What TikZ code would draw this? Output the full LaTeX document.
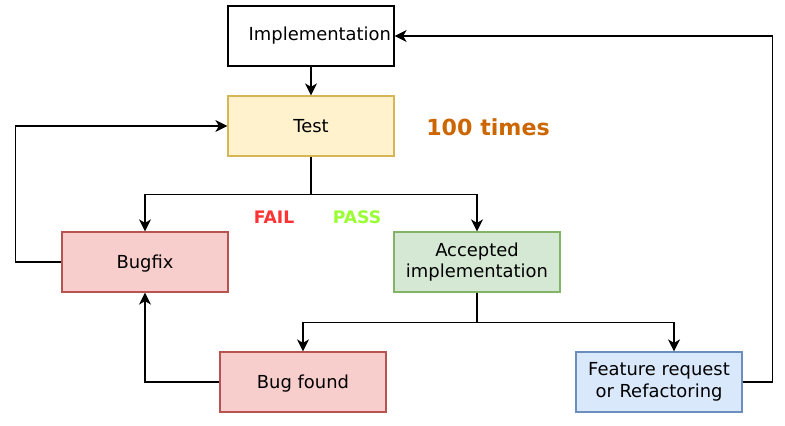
\documentclass[tikz,border=0pt]{standalone}
\usepackage{
	fontspec,			% Fonts
	tikz,
	xcolor
}
\setmainfont{DejaVu Sans}
\usetikzlibrary{arrows.meta,positioning}

\definecolor{testfill}{HTML}{FFF2CC}
\definecolor{testdraw}{HTML}{D6B656}
\definecolor{bugfill}{HTML}{F8CECC}
\definecolor{bugdraw}{HTML}{B85450}
\definecolor{okfill}{HTML}{D5E8D4}
\definecolor{okdraw}{HTML}{82B366}
\definecolor{reqfill}{HTML}{DAE8FC}
\definecolor{reqdraw}{HTML}{6C8EBF}
\definecolor{timescol}{HTML}{CC6600}
\definecolor{failcol}{HTML}{FF3333}
\definecolor{passcol}{HTML}{99FF33}

\begin{document}
\begin{tikzpicture}[x=0.2mm,y=-0.2mm,
		box/.style={draw, line width=0.7pt, minimum width=33.2mm, minimum height=12mm,
			align=center, inner sep=1pt, font=\fontsize{10.2}{12.2}\selectfont},
		flow/.style={draw, line width=0.95pt, -{Stealth[length=2.4mm,width=2.4mm,inset=0.7mm]}}]
		\useasboundingbox (0,0) rectangle (785,425);
		\node[box, text width=32mm, align=right] (impl) at (311,36) {Implementation};
		\node[box, fill=testfill, draw=testdraw] (test) at (311,126) {Test};
		\node[box, fill=bugfill, draw=bugdraw, text depth=0pt] (bugfix) at (145,262) {Bugfix};
		\node[box, fill=okfill, draw=okdraw] (accepted) at (477,262) {Accepted\\implementation};
		\node[box, fill=bugfill, draw=bugdraw, text depth=0pt] (bugfound) at (303,382) {Bug found};
		\node[box, fill=reqfill, draw=reqdraw] (feature) at (659,382) {Feature request\\or Refactoring};
		\node[text=timescol, font=\fontsize{12.6}{15}\selectfont\bfseries] (times) at (488,127) {100 times};
		\node[text=failcol, font=\fontsize{9.8}{12}\selectfont\bfseries] (fail) at (274,217) {FAIL};
		\node[text=passcol, font=\fontsize{9.8}{12}\selectfont\bfseries] (pass) at (357,217) {PASS};
		\draw[flow] (impl) -- (test);
		\draw[flow] (test.south) -- ++(0,38) coordinate (split) -| (bugfix.north);
		\draw[flow] (split) -| (accepted.north);
		\draw[flow] (bugfix.west) -- ++(-46,0) |- (test.west);
		\draw[flow] (accepted.south) -- ++(0,30) coordinate (split2) -| (bugfound.north);
		\draw[flow] (split2) -| ([xshift=3mm]feature.north);
		\draw[flow] (bugfound.west) -| (bugfix.south);
		\draw[flow] (feature.east) -- ++(30,0) |- (impl.east);
	\end{tikzpicture}
\end{document}
